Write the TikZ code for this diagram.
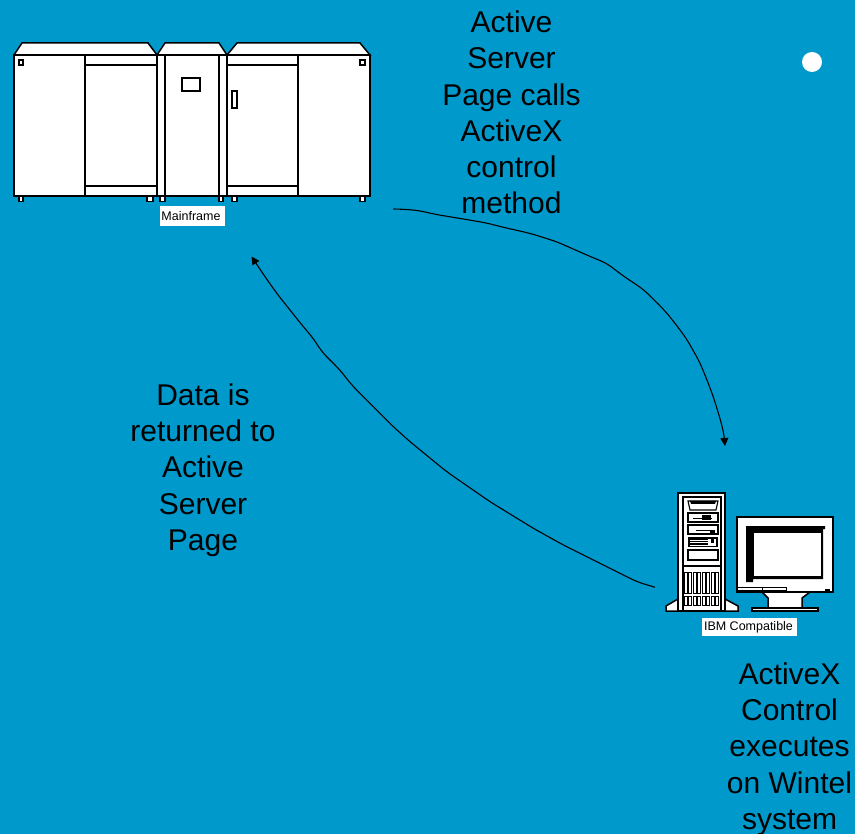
\documentclass[tikz,border=0pt]{standalone}
\usepackage{fontspec}
\setmainfont{Liberation Sans}
\usetikzlibrary{arrows.meta}
\definecolor{bgblue}{RGB}{0,153,204}
\tikzset{
  caption/.style={font=\fontsize{30}{36.3}\selectfont,text=black,align=center,inner sep=0pt},
  tag/.style={fill=white,font=\fontsize{12.5}{14}\selectfont,text=black,inner sep=0pt},
  hw/.style={draw=black,fill=white,line width=1.5pt,line join=miter},
  hwline/.style={draw=black,line width=1.5pt},
  thinhw/.style={draw=black,line width=0.9pt},
  flow/.style={draw=black,line width=1.1pt,line join=round,rounded corners=7pt,-{Triangle[length=8pt,width=8pt]}}
}
\begin{document}
\begin{tikzpicture}[x=1pt,y=-1pt]
\useasboundingbox (0,0) rectangle (855,834);
\fill[bgblue] (0,0) rectangle (855,834);

% mainframe: feet
\foreach \a/\b in {19/23,147/153,160/165,219/223,232/237,360/365}
  \draw[hw,line width=1.1pt] (\a,196) rectangle (\b,201.5);
% mainframe: roofs
\draw[hw] (14,55) -- (22,43) -- (148,43) -- (157,55) -- cycle;
\draw[hw] (157,55) -- (165,43) -- (219,43) -- (227,55) -- cycle;
\draw[hw] (227,55) -- (237,43) -- (360,43) -- (370,55) -- cycle;
% mainframe: cabinets
\draw[hw] (14,55) rectangle (370,196);
\draw[hwline] (85,55) -- (85,196) (85,65) -- (157,65) (85,186) -- (157,186);
\draw[hwline] (157,55) -- (157,196) (165,55) -- (165,196) (219,55) -- (219,196) (227,55) -- (227,196);
\draw[hwline] (298,55) -- (298,196) (227,65) -- (298,65) (227,186) -- (298,186);
\draw[hw] (182,78) rectangle (200,91);
\draw[hw] (232,91) rectangle (237,108);
\draw[hw,line width=1.1pt] (19,60) rectangle (23,65);
\draw[hw,line width=1.1pt] (360,60) rectangle (365,65);
\node[tag,minimum width=65pt,minimum height=20pt] (mainframe) at (192.5,216) {Mainframe\kern3pt};

% tower
\draw[hw] (678,599) -- (666,606) -- (666,611) -- (738,611) -- (738,606) -- (725,599) -- cycle;
\draw[hw] (678,493) rectangle (725,611);
\draw[hwline] (683,611) -- (683,497) -- (721,497) -- (721,611);
\draw[hw,line width=1.1pt] (688,501) -- (718,501) -- (716,510) -- (690,510) -- cycle;
\fill (690,501) -- (716,501) -- (715,504) -- (691,504) -- cycle;
\draw[hw,line width=1.1pt] (688,513) rectangle (718,522);
\draw[thinhw] (693,518) -- (712,518);
\fill (702,515) rectangle (711,520);
\draw[hw,line width=1.1pt] (688,525) rectangle (718,534);
\draw[thinhw] (696,530) -- (710,530);
\fill (710,530) rectangle (715,534);
\fill (688,537) rectangle (718,547);
\foreach \yy in {540,542.5,545} \draw[white,line width=0.5pt] (690,\yy) -- (708,\yy);
\fill[white] (708,539) rectangle (716,546);
\fill (711,539) rectangle (714,543);
\draw[hw,line width=1.1pt] (688,550) rectangle (718,560);
\draw[hwline] (683,566) -- (721,566);
\foreach \xx in {684,693,702,711}{
  \foreach \dx in {0,4.5}{
    \draw[hw,line width=0.9pt] (\xx+\dx,572) rectangle (\xx+\dx+3,593);
    \draw[hw,line width=0.9pt] (\xx+\dx,596) rectangle (\xx+\dx+3,605);
  }
}
% monitor
\draw[hw] (762,592) -- (768,598) -- (768,608) -- (802,608) -- (802,598) -- (810,592) -- cycle;
\draw[hw,line width=1.1pt] (752,608) rectangle (818,611);
\draw[hw] (737,517) rectangle (833,592);
\fill (746,526) -- (825,526) -- (825,529) -- (823,529) -- (823,579) -- (753,579) -- (753,582) -- (746,582) -- cycle;
\draw[fill=white,draw=black,line width=0.6pt] (753,532) rectangle (821.5,576);
\draw[hwline,line width=0.9pt] (737,590) -- (786,590) (737,587.5) -- (786,587.5) -- (786,592);
\draw[hwline,line width=0.9pt] (762,587.5) -- (762,592);
\fill (825,589) rectangle (829.5,591);
\node[tag,minimum width=95pt,minimum height=18pt] (ibm) at (749.5,627) {IBM Compatible\kern2pt};

% dot
\fill[white] (812,62) circle (10);

% captions
\node[caption] (cap1) at (511.5,112.5) {Active\\Server\\Page calls\\ActiveX\\control\\method};
\node[caption] (cap2) at (203,470) {Data is\\returned to\\Active\\Server\\Page};
\node[caption] (cap3) at (789.5,749) {ActiveX\\Control\\executes\\on Wintel\\system};

% connectors
\coordinate (callstart) at (393.3,209);
\coordinate (callend) at (725,446);
\coordinate (retstart) at (655,587.3);
\coordinate (retend) at (251.5,256.5);
\draw[flow] (callstart) -- (405,209.3) -- (420,210.7) -- (433.3,214) -- (463.3,219) -- (486.7,223) -- (503.3,227.3) -- (530,233.3) -- (556.7,241.7) -- (586.7,255) -- (606.7,263.3) -- (623.3,276) -- (643.3,289.3) -- (663.3,309) -- (673.3,321) -- (686.7,339) -- (700,362.7) -- (708.3,383.3) -- (713.3,396.7) -- (720,418.3) -- (724,434) -- (callend);
\draw[flow] (retstart) -- (636.7,581.7) -- (613.3,570) -- (586.7,556.7) -- (563.3,545) -- (533.3,528.3) -- (490,501.7) -- (446.7,471.7) -- (410,441.7) -- (393.3,426.7) -- (351.7,385) -- (340,370) -- (321.7,351.7) -- (313.3,338.3) -- (303.3,326.7) -- (276.7,293.3) -- (265,276.7) -- (retend);
\end{tikzpicture}
\end{document}
